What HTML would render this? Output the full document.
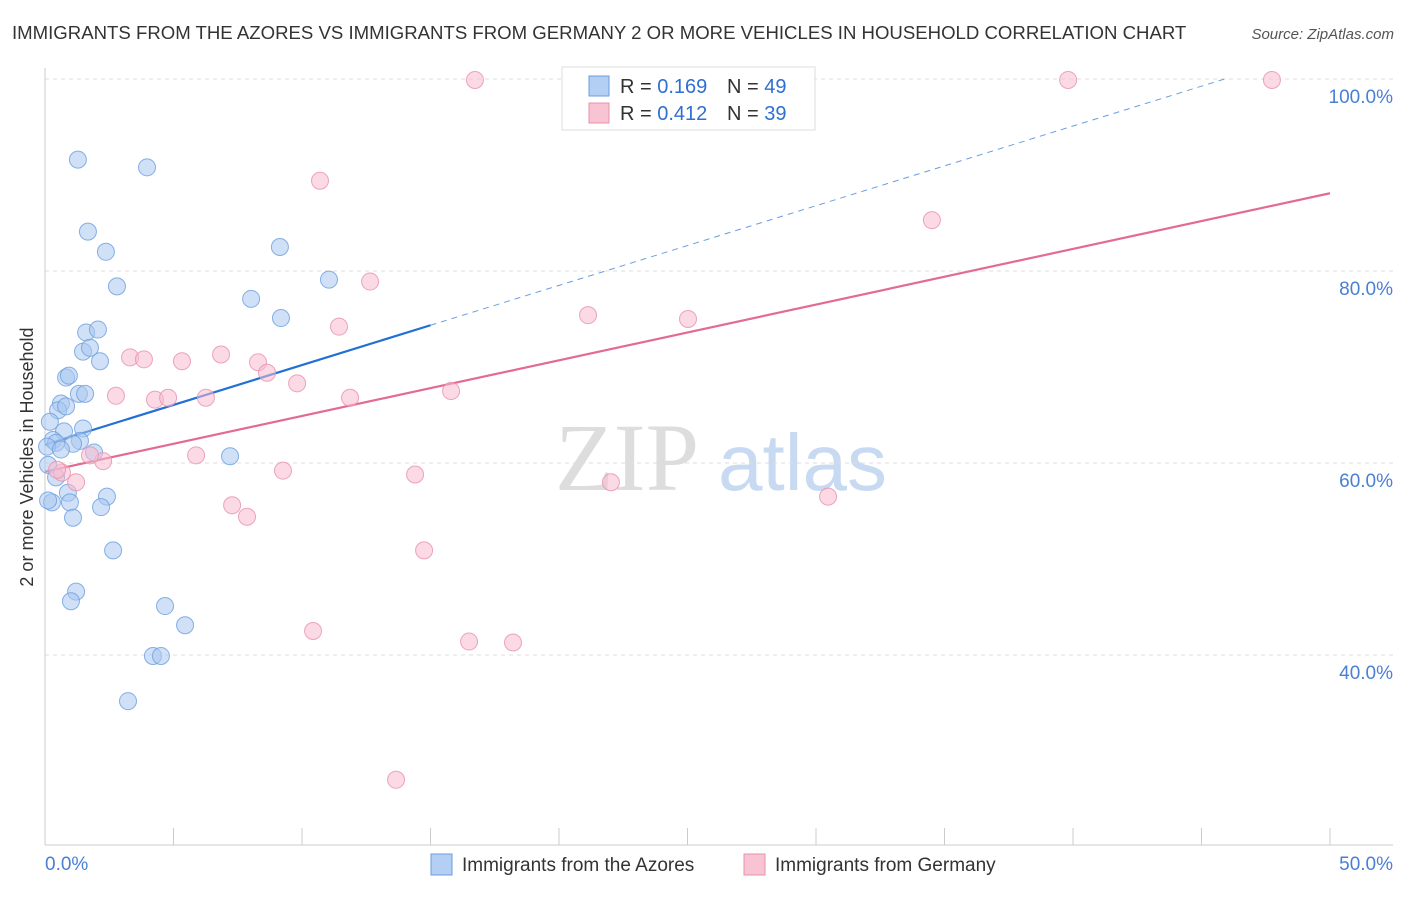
<!DOCTYPE html>
<html><head><meta charset="utf-8"><style>
body{margin:0;background:#fff;font-family:"Liberation Sans",sans-serif;}
</style></head><body>
<svg id="chart" width="1406" height="892" xmlns="http://www.w3.org/2000/svg" font-family="Liberation Sans, sans-serif">
<text x="12" y="39" font-size="18.6" fill="#333">IMMIGRANTS FROM THE AZORES VS IMMIGRANTS FROM GERMANY 2 OR MORE VEHICLES IN HOUSEHOLD CORRELATION CHART</text>
<text x="1394" y="39" font-size="15" fill="#555" font-style="italic" text-anchor="end">Source: ZipAtlas.com</text>
<text transform="translate(33,457) rotate(-90)" font-size="18" fill="#333" text-anchor="middle">2 or more Vehicles in Household</text>
<g><text x="555" y="490" font-size="96" fill="#ddd" font-family="Liberation Serif, serif">ZIP</text><text x="718" y="490" font-size="80" fill="#c8daf2">atlas</text></g>
<g id="grid"></g><g id="axes"></g><g id="lines"></g><g id="pts"></g>
<g>
<rect x="562" y="67" width="253" height="63" fill="#fff" stroke="#ddd"/>
<rect x="589" y="76" width="20" height="20" fill="#b3cff3" stroke="#6a9ee0"/>
<text x="620" y="93" font-size="20" fill="#333">R = <tspan fill="#2f6fd0">0.169</tspan></text>
<text x="727" y="93" font-size="20" fill="#333">N = <tspan fill="#2f6fd0">49</tspan></text>
<rect x="589" y="103" width="20" height="20" fill="#f8c4d4" stroke="#e890aa"/>
<text x="620" y="120" font-size="20" fill="#333">R = <tspan fill="#2f6fd0">0.412</tspan></text>
<text x="727" y="120" font-size="20" fill="#333">N = <tspan fill="#2f6fd0">39</tspan></text>
</g>
<g>
<rect x="431" y="854" width="21" height="21" fill="#b3cff3" stroke="#6a9ee0"/>
<text x="462" y="871" font-size="19" fill="#333">Immigrants from the Azores</text>
<rect x="744" y="854" width="21" height="21" fill="#f8c4d4" stroke="#e890aa"/>
<text x="775" y="871" font-size="19" fill="#333">Immigrants from Germany</text>
</g>
</svg>
<script>
const blueX=[1.28,3.97,1.67,2.37,2.80,9.14,8.02,11.05,9.18,1.60,2.06,1.48,1.75,2.14,0.82,0.93,0.62,0.51,0.82,1.32,1.56,1.48,0.19,0.74,0.31,0.43,1.36,1.09,0.08,0.62,1.91,7.20,0.12,0.43,0.89,2.41,0.27,0.97,2.18,1.09,2.65,1.21,1.01,4.67,5.45,4.20,4.51,3.23,0.12];
const blueY=[91.6,90.8,84.1,82.0,78.4,82.5,77.1,79.1,75.1,73.6,73.9,71.6,72.0,70.6,68.9,69.1,66.2,65.5,65.9,67.2,67.2,63.6,64.3,63.3,62.4,62.1,62.3,62.0,61.7,61.4,61.1,60.7,59.8,58.5,56.9,56.5,55.9,55.9,55.4,54.3,50.9,46.6,45.6,45.1,43.1,39.9,39.9,35.2,56.1];
const pinkX=[16.73,39.81,47.74,10.70,34.51,12.65,21.13,25.02,11.44,3.31,3.85,5.33,6.85,8.29,8.64,9.81,2.76,4.28,4.79,6.26,11.87,15.80,5.88,2.26,1.75,0.66,9.26,14.40,22.02,1.21,30.47,7.28,7.86,14.75,10.43,16.50,18.21,13.66,0.47];
const pinkY=[99.9,99.9,99.9,89.4,85.3,78.9,75.4,75.0,74.2,71.0,70.8,70.6,71.3,70.5,69.4,68.3,67.0,66.6,66.8,66.8,66.8,67.5,60.8,60.2,60.8,59.0,59.2,58.8,58.0,58.0,56.5,55.6,54.4,50.9,42.5,41.4,41.3,27.0,59.3];
const blueTrend=[61.9,0.83];
const pinkTrend=[59.1,0.58];
const yTicks=[100,80,60,40];
const xTickLabels=["0.0%","50.0%"];
const NS="http://www.w3.org/2000/svg";
const sx=v=>45+v/50*1285, sy=v=>79+(100-v)*9.6;
function mk(p,t,a){const e=document.createElementNS(NS,t);for(const k in a)e.setAttribute(k,a[k]);document.getElementById(p).appendChild(e);return e;}
yTicks.forEach(t=>{
 const l=mk('grid','line',{x1:45,x2:1393,y1:sy(t),y2:sy(t),stroke:'#ddd','stroke-dasharray':'4,4'});
 
 
 const tx=mk('grid','text',{x:1393,y:sy(t)+24,'font-size':19,fill:'#4a7fd4','text-anchor':'end'});tx.textContent=t.toFixed(1)+'%';
 
 
});
let a=mk('axes','line',{x1:45,x2:45,y1:68,y2:845,stroke:'#ccc'});


a=mk('axes','line',{x1:45,x2:1393,y1:845,y2:845,stroke:'#ccc'});


for(let i=0;i<=10;i++){const t=mk('axes','line',{x1:sx(i*5),x2:sx(i*5),y1:828,y2:845,stroke:'#ccc'});
 
 }
let xl=mk('axes','text',{x:45,y:870,'font-size':19,fill:'#4a7fd4'});xl.textContent=xTickLabels[0];


xl=mk('axes','text',{x:1393,y:870,'font-size':19,fill:'#4a7fd4','text-anchor':'end'});xl.textContent=xTickLabels[1];


function pts(X,Y,f,s,n){X.forEach((x,i)=>{const c=mk('pts','circle',{cx:sx(x),cy:sy(Y[i]),r:8.5,fill:f,'fill-opacity':0.55,stroke:s,'stroke-opacity':0.8,'stroke-width':1});
 
 });}
pts(blueX,blueY,'#a9c8f0','#6a9ee0','azores-point');
pts(pinkX,pinkY,'#f7bccf','#e890aa','germany-point');
const bEnd=(100-blueTrend[0])/blueTrend[1];
let L=mk('lines','line',{x1:sx(0),y1:sy(blueTrend[0]),x2:sx(15),y2:sy(blueTrend[0]+15*blueTrend[1]),stroke:'#2270d6','stroke-width':2.2});


L=mk('lines','line',{x1:sx(15),y1:sy(blueTrend[0]+15*blueTrend[1]),x2:sx(bEnd),y2:sy(100),stroke:'#6a9ee0','stroke-width':1,'stroke-dasharray':'6,5'});


L=mk('lines','line',{x1:sx(0),y1:sy(pinkTrend[0]),x2:sx(50),y2:sy(pinkTrend[0]+50*pinkTrend[1]),stroke:'#e36b93','stroke-width':2.2});


</script>
</body></html>
